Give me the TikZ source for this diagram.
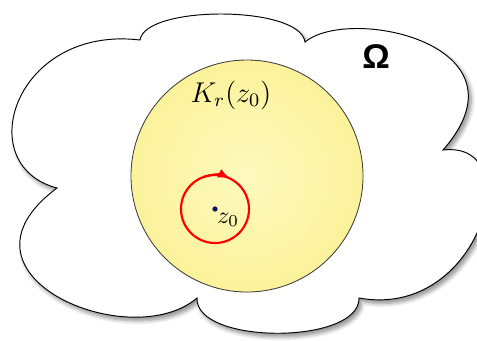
\documentclass[tikz,border=0pt]{standalone}
\usepackage{amsmath,amssymb}
\usepackage{fontspec}
\newfontfamily\omegafont{Liberation Sans}
\usepackage{tikz}
\usetikzlibrary{arrows.meta, shadows, shadows.blur}

\definecolor{kyellow}{RGB}{251,242,155}
\definecolor{klight}{RGB}{254,249,190}
\definecolor{dotblue}{RGB}{20,20,90}

\begin{document}
\begin{tikzpicture}[
  x=0.42pt, y=-0.42pt,
  region/.style={
    draw=black, line width=0.4pt, fill=white,
    blur shadow={shadow xshift=1.2pt, shadow yshift=-1.5pt,
                 shadow blur steps=6, shadow opacity=45}
  },
  disc/.style={
    inner color=klight, outer color=kyellow
  },
  loop/.style={red, line width=0.9pt},
  point/.style={circle, fill=dotblue, inner sep=0pt, minimum size=2.2pt}
]
\useasboundingbox (0,0) rectangle (477,340);

% ---- Domain Omega (cloud) ----
\draw[region]
  (57,188) .. controls (-30,165) and (15,25) .. (140,40)
           .. controls (145,5) and (300,5) .. (305,42)
           .. controls (350,5) and (535,45) .. (443,150)
           .. controls (530,140) and (480,320) .. (359,298)
           .. controls (360,345) and (195,345) .. (197,298)
           .. controls (130,355) and (-60,275) .. (57,188)
  -- cycle;

% ---- Disc K_r(z_0) ----
\coordinate (K) at (247,176);
\fill[disc] (K) circle (116);
\draw[draw=black!75, line width=0.35pt] (K) circle (116);

% ---- Point z_0 and loop ----
\node[point] (z0) at (215,209) {};
\draw[loop] (z0) circle (34);
\draw[loop, -{Latex[length=5pt, width=4pt]}]
  ([shift={(110:14.28pt)}]z0) arc[start angle=110, end angle=64, radius=14.28pt];

% ---- Labels ----
\node[anchor=north west, inner sep=1pt] (z0lab) at ([xshift=-1.5pt, yshift=-0.5pt]z0.east) {$z_0$};
\node[font=\large] (Klabel) at (231,95) {$K_r(z_0)$};
\node[font=\Large] (Omega) at (376,57) {\omegafont\bfseries Ω};

\end{tikzpicture}
\end{document}
